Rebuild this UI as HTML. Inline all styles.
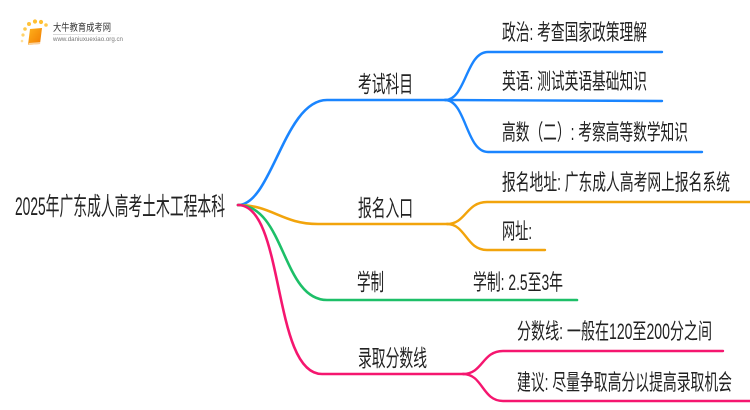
<!DOCTYPE html>
<html><head><meta charset="utf-8"><style>
html,body{margin:0;padding:0;background:#fff;}
svg{display:block;}
text{font-family:"Liberation Sans","Noto Sans CJK SC",sans-serif;fill:#222;}
</style></head><body>
<svg width="750" height="410" viewBox="0 0 750 410" xmlns="http://www.w3.org/2000/svg">
<defs>
<linearGradient id="bk" x1="0" y1="0" x2="1" y2="1"><stop offset="0" stop-color="#ffb21c"/><stop offset="1" stop-color="#f07a00"/></linearGradient>
<linearGradient id="ul" x1="0" y1="0" x2="1" y2="0"><stop offset="0" stop-color="#ccc"/><stop offset="1" stop-color="#fff"/></linearGradient>
</defs>
<!-- logo -->
<g>
<circle cx="23" cy="35" r="1.6" fill="#ffd36a"/>
<circle cx="25" cy="29" r="1.8" fill="#ffc94a"/>
<circle cx="29" cy="24" r="2" fill="#ffc23a"/>
<circle cx="35" cy="21.5" r="2.1" fill="#ffbf30"/>
<circle cx="41" cy="22" r="2.1" fill="#ffbf30"/>
<circle cx="46" cy="25" r="1.8" fill="#ffc94a"/>
<circle cx="22" cy="41" r="1.3" fill="#ffe09a"/>
<path d="M30 29 L42 28 L40 44 L28 45 Z" fill="url(#bk)"/>
<path d="M28 45 L40 44 L40.5 42 L29 43 Z" fill="#fff" opacity="0.6"/>
<text x="53" y="31" font-size="10" style="fill:#333" textLength="58" lengthAdjust="spacingAndGlyphs">大牛教育成考网</text>
<rect x="53" y="34" width="72" height="0.8" fill="url(#ul)"/>
<text x="53" y="41" font-size="6" style="fill:#777" textLength="70" lengthAdjust="spacingAndGlyphs">www.daniuxuexiao.org.cn</text>
</g>

<g fill="none" stroke-linecap="round">
<!-- blue -->
<path d="M238 205 C 272 205 284 100 327 100 L445 100" stroke="#1a85ff" stroke-width="2.6"/>
<path d="M445 100 C 466 100 466 52 488 52 L662 52" stroke="#1a85ff" stroke-width="2.4"/>
<path d="M445 100 L662 101" stroke="#1a85ff" stroke-width="2.4"/>
<path d="M445 100 C 466 100 466 152 488 152 L702 152" stroke="#1a85ff" stroke-width="2.4"/>
<!-- orange -->
<path d="M238 205 C 272 205 282 224 318 224 L447 224" stroke="#f2a40c" stroke-width="2.6"/>
<path d="M447 224 C 466 224 466 202 487 202 L752 202" stroke="#f2a40c" stroke-width="2.4"/>
<path d="M447 224 C 466 224 466 250 487 250 L545 250" stroke="#f2a40c" stroke-width="2.4"/>
<!-- green -->
<path d="M238 205 C 285 205 282 300 327 300 L577 300" stroke="#1dbf68" stroke-width="2.6"/>
<!-- pink -->
<path d="M238 205 C 285 205 272 374 322 374 L463 374" stroke="#f5166f" stroke-width="2.6"/>
<path d="M463 374 C 483 374 482 351 503 351 L723 351" stroke="#f5166f" stroke-width="2.4"/>
<path d="M463 374 C 483 374 482 401 503 401 L752 401" stroke="#f5166f" stroke-width="2.4"/>
</g>

<!-- root -->
<text x="15" y="215" font-size="25" textLength="210" lengthAdjust="spacingAndGlyphs">2025年广东成人高考土木工程本科</text>

<!-- level 1 -->
<text x="358" y="92" font-size="23" textLength="55" lengthAdjust="spacingAndGlyphs">考试科目</text>
<text x="358" y="216" font-size="23" textLength="55" lengthAdjust="spacingAndGlyphs">报名入口</text>
<text x="357" y="290" font-size="23" textLength="27" lengthAdjust="spacingAndGlyphs">学制</text>
<text x="358" y="366" font-size="23" textLength="69" lengthAdjust="spacingAndGlyphs">录取分数线</text>

<!-- children -->
<text x="502" y="40" font-size="22" textLength="145" lengthAdjust="spacingAndGlyphs">政治: 考查国家政策理解</text>
<text x="502" y="89" font-size="22" textLength="145" lengthAdjust="spacingAndGlyphs">英语: 测试英语基础知识</text>
<text x="502" y="140" font-size="22" textLength="186" lengthAdjust="spacingAndGlyphs">高数（二）: 考察高等数学知识</text>
<text x="502" y="190" font-size="22" textLength="228" lengthAdjust="spacingAndGlyphs">报名地址: 广东成人高考网上报名系统</text>
<text x="502" y="239" font-size="22" textLength="30" lengthAdjust="spacingAndGlyphs">网址:</text>
<text x="473" y="290" font-size="22" textLength="90" lengthAdjust="spacingAndGlyphs">学制: 2.5至3年</text>
<text x="517" y="339" font-size="22" textLength="195" lengthAdjust="spacingAndGlyphs">分数线: 一般在120至200分之间</text>
<text x="517" y="390" font-size="22" textLength="215" lengthAdjust="spacingAndGlyphs">建议: 尽量争取高分以提高录取机会</text>
</svg>
</body></html>
